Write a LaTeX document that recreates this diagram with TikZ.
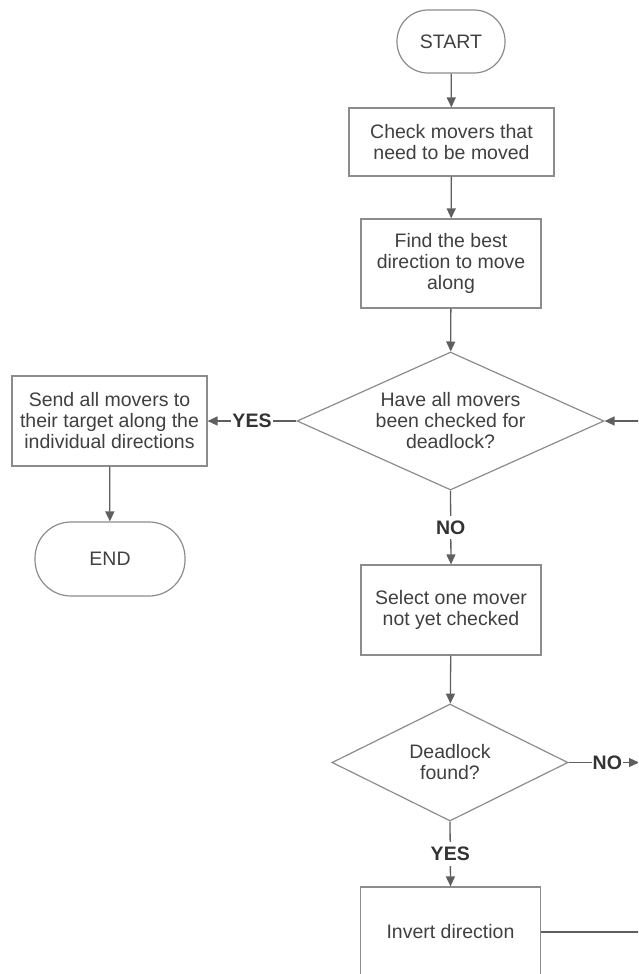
\documentclass[tikz,border=0pt]{standalone}
\usepackage{fontspec}
\setmainfont{Liberation Sans}
\usetikzlibrary{shapes.geometric,arrows.meta}

\definecolor{edgegray}{HTML}{8C8C8C}
\definecolor{linkgray}{HTML}{5F5F5F}
\definecolor{txtgray}{HTML}{404040}
\definecolor{lblgray}{HTML}{333333}

\newcommand{\chartfont}{\fontsize{19.5}{21}\selectfont}

\tikzset{
  stepbox/.style={draw=edgegray, line width=1.2pt, fill=white, align=center,
    text=txtgray, font=\chartfont, inner sep=0pt},
  terminal/.style={stepbox},
  decision/.style={stepbox, diamond, inner sep=0pt},
  flow/.style={draw=linkgray, line width=1.3pt,
    -{Triangle[length=10pt,width=9pt]}},
  plain/.style={draw=linkgray, line width=1.3pt},
  lbl/.style={fill=white, text=lblgray, font=\chartfont\bfseries,
    inner xsep=1pt, inner ysep=5pt}
}

\begin{document}
\begin{tikzpicture}[x=1pt,y=-1pt]
  \useasboundingbox (0,0) rectangle (638,974);
  \clip (0,0) rectangle (638,974);

  % main column
  \node[terminal, rounded corners=31pt, minimum width=108pt, minimum height=63pt]
    (start) at (451,41.5) {START};
  \node[stepbox, minimum width=205pt, minimum height=68pt]
    (check) at (451.5,142) {Check movers that\\need to be moved};
  \node[stepbox, minimum width=180pt, minimum height=89pt]
    (best) at (451,263.5) {Find the best\\direction to move\\along};
  \node[decision, aspect=2.4, minimum width=307pt, minimum height=138pt]
    (allchecked) at (450.5,421) {Have all movers\\been checked for\\deadlock?};
  \node[stepbox, minimum width=180pt, minimum height=90pt]
    (select) at (451,610) {Select one mover\\not yet checked};
  \node[decision, aspect=2.02, minimum width=236pt, minimum height=117pt]
    (found) at (450,762.5) {Deadlock\\found?};
  \node[stepbox, minimum width=180pt, minimum height=90pt]
    (invert) at (450.5,932) {Invert direction};

  % left branch
  \node[stepbox, minimum width=195pt, minimum height=90pt]
    (send) at (109.5,421) {Send all movers to\\their target along the\\individual directions};
  \node[terminal, rounded corners=36pt, minimum width=150pt, minimum height=74pt]
    (finish) at (110,559) {END};

  % loop-back helpers beyond the right edge
  \coordinate (loopdown) at (660,932);
  \coordinate (loopup) at (660,421);
  \coordinate (noexit) at (639,762.5);

  % connectors
  \draw[flow] (start) -- (check);
  \draw[flow] (check) -- (best);
  \draw[flow] (best) -- (allchecked);
  \draw[flow] (allchecked.west) -- node[lbl] {YES} (send.east);
  \draw[flow] (send) -- (finish);
  \draw[flow] (allchecked.south) -- node[lbl] {NO} (select.north);
  \draw[flow] (select) -- (found);
  \draw[flow] (found.east) -- node[lbl, pos=0.55] {NO} (noexit);
  \draw[flow] (found.south) -- node[lbl] {YES} (invert.north);
  \draw[plain] (invert.east) -- (loopdown) -- (loopup);
  \draw[flow] (loopup) -- (allchecked.east);
\end{tikzpicture}
\end{document}
